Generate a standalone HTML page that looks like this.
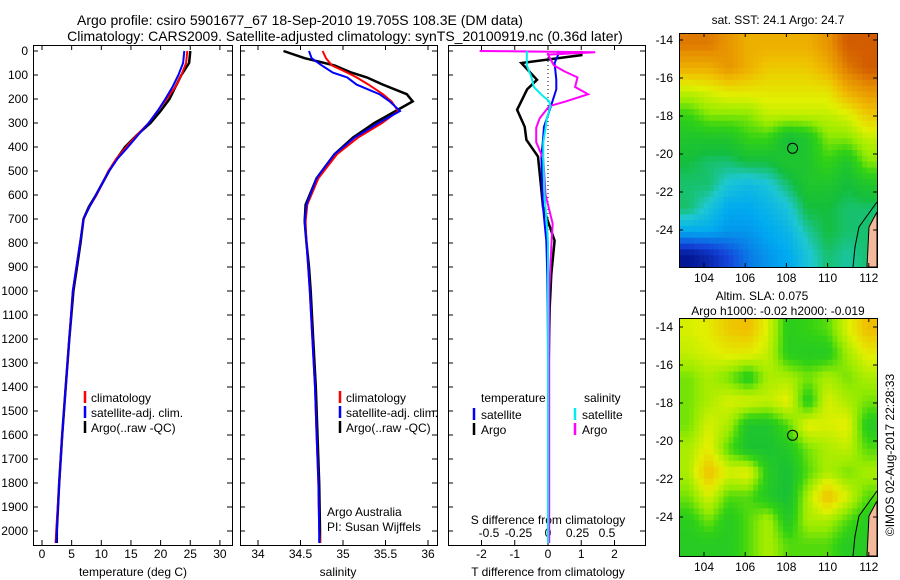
<!DOCTYPE html>
<html><head><meta charset="utf-8"><style>
body{margin:0;background:#fff;}
svg{display:block;font-family:"Liberation Sans",sans-serif;}
</style></head><body>
<svg id="c" width="900" height="580" viewBox="0 0 900 580"></svg>
<script>
// ---- data ----
const depths = [0,50,100,150,200,250,300,350,400,450,500,550,600,650,700,800,900,1000,1200,1400,1600,1800,2000,2050];
const climT = [24.5,24.3,23.5,22.5,21,19.5,18,16,14.2,12.5,11.2,10.2,9.2,8,7.0,6.4,5.8,5.2,4.6,4.0,3.4,2.9,2.4,2.3];
const satT  = [24.0,23.8,23.0,22.0,20.8,19.5,18,16.2,14.5,12.7,11.3,10.2,9.1,8,7.0,6.4,5.8,5.2,4.6,4.0,3.4,2.9,2.5,2.4];
const argoT = [25.0,24.8,23.5,22.5,21.5,20,18.3,16,14,12.6,11.3,10.2,9.1,7.9,7.0,6.5,5.9,5.3,4.6,4.0,3.4,2.9,2.5,2.5];
const sDepths = [0,30,60,90,110,140,180,210,250,300,360,430,530,640,710,800,900,1000,1200,1400,1600,1800,2000,2050];
const climS = [34.76,34.8,34.87,35.05,35.16,35.3,35.47,35.57,35.65,35.46,35.18,34.93,34.71,34.58,34.56,34.57,34.59,34.61,34.64,34.67,34.69,34.71,34.72,34.73];
const satS  = [34.6,34.63,34.75,34.88,35.05,35.16,35.43,35.55,35.67,35.42,35.14,34.9,34.69,34.57,34.55,34.57,34.59,34.61,34.64,34.67,34.69,34.71,34.72,34.72];
const argoS = [34.3,34.55,34.9,35.1,35.28,35.47,35.75,35.82,35.62,35.37,35.12,34.9,34.69,34.56,34.55,34.57,34.6,34.62,34.65,34.68,34.7,34.72,34.73,34.73];
const dTdep = [0,17,50,120,160,245,316,370,440,580,650,790,930,1070,1300,1600,2050];
const dTargo = [1.0,1.0,-0.8,-0.33,-0.63,-0.93,-0.7,-0.65,-0.3,-0.2,-0.15,0.2,0.1,0.05,0.02,0.01,0.01];
const dTsat  = [0.33,0.3,0.2,0.25,0.25,0.05,-0.12,-0.15,-0.2,-0.17,-0.15,-0.05,-0.02,-0.01,0,0,0];
const dSdep = [0,5,15,60,85,110,150,180,210,230,280,320,380,450,600,720,800,1000,2050];
const dSargo = [-0.58,0.4,0,0.05,0.14,0.25,0.23,0.34,0.15,0.01,-0.07,-0.1,-0.1,-0.04,-0.02,0.04,0.03,0.01,0.01];
const dSsat  = [-0.18,-0.18,-0.18,-0.18,-0.16,-0.14,-0.12,-0.06,0.01,0.02,-0.01,-0.02,-0.04,-0.04,-0.03,-0.01,0,0,0];
const depthTicks = [0,100,200,300,400,500,600,700,800,900,1000,1100,1200,1300,1400,1500,1600,1700,1800,1900,2000];
const tTicks = [0,5,10,15,20,25,30];
const sTicks = [34,34.5,35,35.5,36];
const sTickLabels = ["34","34.5","35","35.5","36"];
const dTTicks = [-2,-1,0,1,2];
const dSTicks = [-0.5,-0.25,0,0.25,0.5];
const dSTickLabels = ["-0.5","-0.25","0","0.25","0.5"];
const latTicks = [-14,-16,-18,-20,-22,-24];
const lonTicks = [104,106,108,110,112];
const sstGrid = [
[0.85,0.85,0.8,0.75,0.75,0.75,0.75,0.8,0.9,0.9],
[0.75,0.75,0.8,0.75,0.7,0.7,0.7,0.75,0.85,0.9],
[0.6,0.62,0.65,0.65,0.65,0.65,0.65,0.65,0.75,0.8],
[0.5,0.55,0.55,0.55,0.6,0.6,0.6,0.6,0.62,0.7],
[0.45,0.45,0.45,0.5,0.5,0.42,0.45,0.55,0.55,0.6],
[0.42,0.4,0.4,0.42,0.42,0.45,0.45,0.5,0.45,0.55],
[0.4,0.4,0.35,0.33,0.35,0.4,0.45,0.45,0.42,0.45],
[0.4,0.35,0.3,0.3,0.32,0.35,0.42,0.42,0.4,0.4],
[0.3,0.3,0.28,0.28,0.3,0.32,0.38,0.42,0.4,0.4],
[0.12,0.15,0.2,0.25,0.28,0.3,0.35,0.4,0.38,0.4]];
const slaGrid = [
[0.62,0.64,0.7,0.72,0.62,0.48,0.5,0.52,0.62,0.72],
[0.6,0.62,0.64,0.64,0.6,0.48,0.47,0.47,0.57,0.64],
[0.54,0.58,0.54,0.47,0.58,0.58,0.54,0.58,0.54,0.58],
[0.54,0.58,0.62,0.62,0.6,0.64,0.47,0.62,0.58,0.54],
[0.54,0.62,0.58,0.45,0.45,0.52,0.64,0.62,0.64,0.47],
[0.58,0.64,0.52,0.44,0.44,0.46,0.54,0.58,0.6,0.52],
[0.58,0.72,0.62,0.64,0.47,0.43,0.52,0.58,0.54,0.58],
[0.54,0.62,0.52,0.52,0.46,0.43,0.58,0.72,0.62,0.52],
[0.48,0.54,0.47,0.52,0.58,0.46,0.58,0.58,0.52,0.47],
[0.47,0.47,0.47,0.52,0.58,0.52,0.52,0.52,0.47,0.47]];
const argoLon = 108.3, argoLat = -19.7;

// ---- helpers ----
const NS="http://www.w3.org/2000/svg";
const svg=document.getElementById('c');
function mk(tag,attrs,parent){const e=document.createElementNS(NS,tag);for(const k in attrs)e.setAttribute(k,attrs[k]);(parent||svg).appendChild(e);return e;}
function txt(x,y,s,anchor,size,parent){const t=mk('text',{x:x,y:y,'font-size':size||12,'text-anchor':anchor||'start',fill:'#000'},parent);t.textContent=s;return t;}
const Y0=45,Y1=545;
const yD=d=>51+0.24*d;
const xT=v=>42+v*5.93;
const xS=v=>258+(v-34)*85;
const xDT=v=>548+v*33.25;
const xDS=v=>548+v*118;

function line(xs,ds,fx,color,w,name){
  const p=xs.map((v,i)=>fx(v).toFixed(1)+','+Math.max(Y0+1,yD(ds[i])).toFixed(1)).join(' ');
  const e=mk('polyline',{points:p,fill:'none',stroke:color,'stroke-width':w});
  
  
}
function panel(x0,x1,name){
  const r=mk('rect',{x:x0+0.5,y:Y0+0.5,width:x1-x0,height:Y1-Y0,fill:'none',stroke:'#000'});
  
  
  depthTicks.forEach(d=>{mk('line',{x1:x0,x2:x0+5,y1:yD(d),y2:yD(d),stroke:'#000'});mk('line',{x1:x1-5,x2:x1,y1:yD(d),y2:yD(d),stroke:'#000'});});
}
function xticks(vals,labels,fx,y){
  vals.forEach((v,i)=>{const x=fx(v);mk('line',{x1:x,x2:x,y1:Y0,y2:Y0+5,stroke:'#000'});mk('line',{x1:x,x2:x,y1:Y1-5,y2:Y1,stroke:'#000'});
    const t=txt(x,y,labels[i],'middle',12);
    
    });
}

// ---- titles ----
let t=txt(300,25,'Argo profile: csiro 5901677_67 18-Sep-2010 19.705S 108.3E (DM data)','middle',14);


t=txt(345,41,'Climatology: CARS2009. Satellite-adjusted climatology: synTS_20100919.nc (0.36d later)','middle',14);



// ---- panel 1 temperature ----
panel(33,232,'temperature-panel');
depthTicks.forEach(d=>{const e=txt(28,yD(d)+4,String(d),'end',12);
  
  });
xticks(tTicks,tTicks.map(String),xT,558);
t=txt(133,576,'temperature (deg C)','middle',12);


line(argoT,depths,xT,'#000',2.5,'argo-temperature-line');
line(climT,depths,xT,'#f00',2,'climatology-temperature-line');
line(satT,depths,xT,'#00f',2,'satellite-temperature-line');

function legend(x,y,name){
  const g=mk('g',{});
  
  
  [['#f00','climatology'],['#00f','satellite-adj. clim.'],['#000','Argo(..raw -QC)']].forEach((e,i)=>{
    mk('line',{x1:x,x2:x,y1:y-9+i*15,y2:y+3+i*15,stroke:e[0],'stroke-width':2.5},g);
    txt(x+6,y+2+i*15,e[1],'start',12,g);});
}
legend(85,400,'temperature-legend');

// ---- panel 2 salinity ----
panel(240,437,'salinity-panel');
xticks(sTicks,sTickLabels,xS,558);
t=txt(338,576,'salinity','middle',12);


line(argoS,sDepths,xS,'#000',2.5,'argo-salinity-line');
line(climS,sDepths,xS,'#f00',2,'climatology-salinity-line');
line(satS,sDepths,xS,'#00f',2,'satellite-salinity-line');
legend(340,400,'salinity-legend');
t=txt(327,516,'Argo Australia','start',12);


t=txt(327,531,'PI: Susan Wijffels','start',12);



// ---- panel 3 differences ----
panel(448,645,'difference-panel');
xticks(dTTicks,dTTicks.map(String),xDT,558);
dSTicks.forEach((v,i)=>{const e=txt(xDS(v),537,dSTickLabels[i],'middle',12);
  
  });
t=txt(548,524,'S difference from climatology','middle',12);


t=txt(548,576,'T difference from climatology','middle',12);


mk('line',{x1:xDT(0),x2:xDT(0),y1:Y0,y2:Y1,stroke:'#000','stroke-dasharray':'1,3'});
line(dTargo,dTdep,xDT,'#000',2.5,'argo-t-diff-line');
line(dTsat,dTdep,xDT,'#00f',2,'satellite-t-diff-line');
line(dSargo,dSdep,xDS,'#f0f',2,'argo-s-diff-line');
line(dSsat,dSdep,xDS,'#0ee',2,'satellite-s-diff-line');
const lg=mk('g',{});


txt(481,402,'temperature','start',12,lg);txt(584,402,'salinity','start',12,lg);
[['#00f','satellite',474],['#000','Argo',474],['#0ee','satellite',575],['#f0f','Argo',575]].forEach((e,i)=>{
  const yy=417+(i%2)*15;mk('line',{x1:e[2],x2:e[2],y1:yy-9,y2:yy+3,stroke:e[0],'stroke-width':2.5},lg);txt(e[2]+7,yy+2,e[1],'start',12,lg);});

// ---- maps ----
const stops=[[0.1,[0,10,130]],[0.2,[20,70,220]],[0.3,[0,170,240]],[0.36,[30,200,210]],[0.42,[20,190,60]],[0.5,[50,210,20]],[0.56,[150,235,0]],[0.63,[225,240,0]],[0.72,[240,190,0]],[0.82,[230,140,0]],[0.92,[205,80,0]]];
function cmap(v){if(v<=stops[0][0])return 'rgb('+stops[0][1]+')';
  for(let i=1;i<stops.length;i++){if(v<=stops[i][0]){const a=stops[i-1],b=stops[i],f=(v-a[0])/(b[0]-a[0]);
    return 'rgb('+a[1].map((c,k)=>Math.round(c+(b[1][k]-c)*f)).join(',')+')';}}
  return 'rgb('+stops[stops.length-1][1]+')';}
function sample(grid,fy,fx){
  const rows=grid.length,cols=grid[0].length;
  const y=Math.min(Math.max(fy-0.5,0),rows-1),x=Math.min(Math.max(fx-0.5,0),cols-1);
  const y0=Math.floor(y),x0=Math.floor(x),y1=Math.min(y0+1,rows-1),x1=Math.min(x0+1,cols-1),a=y-y0,b=x-x0;
  return grid[y0][x0]*(1-a)*(1-b)+grid[y0][x1]*(1-a)*b+grid[y1][x0]*a*(1-b)+grid[y1][x1]*a*b;
}
function map(grid,top,bot,name,lat14y){
  const L=679,R=877,SUB=4;
  const g=mk('g',{});
  
  
  const rows=grid.length*SUB,cols=grid[0].length*SUB,cw=(R-L)/cols,ch=(bot-top)/rows;
  for(let r=0;r<rows;r++)for(let c=0;c<cols;c++){
    const v=sample(grid,(r+0.5)/SUB,(c+0.5)/SUB);
    const cell=mk('rect',{x:(L+c*cw).toFixed(2),y:(top+r*ch).toFixed(2),width:(cw+0.6).toFixed(2),height:(ch+0.6).toFixed(2),fill:cmap(v)},g);
    
    }
  const lx=lon=>704+(lon-104)*20.6, ly=lat=>lat14y+(-14-lat)*19;
  mk('polygon',{points:`${R},${bot-55} ${R-8},${bot-40} ${R-10},${bot} ${R},${bot}`,fill:'#f4b89a',stroke:'#000'},g);
  mk('polyline',{points:`${R},${bot-65} ${R-18},${bot-40} ${R-22},${bot-20} ${R-24},${bot}`,fill:'none',stroke:'#000'},g);
  mk('rect',{x:L+0.5,y:top+0.5,width:R-L,height:bot-top,fill:'none',stroke:'#000'},g);
  latTicks.forEach(la=>{const y=ly(la);mk('line',{x1:L,x2:L+4,y1:y,y2:y,stroke:'#000'},g);mk('line',{x1:R-4,x2:R,y1:y,y2:y,stroke:'#000'},g);txt(673,y+4,String(la),'end',12,g);});
  lonTicks.forEach(lo=>{const x=lx(lo);mk('line',{x1:x,x2:x,y1:top,y2:top+4,stroke:'#000'},g);mk('line',{x1:x,x2:x,y1:bot-4,y2:bot,stroke:'#000'},g);txt(x,bot+15,String(lo),'middle',12,g);});
  const dot=mk('circle',{cx:lx(argoLon),cy:ly(argoLat),r:5,fill:'none',stroke:'#000'},g);
  
  
}
map(sstGrid,33,267,'sst-map',40);
map(slaGrid,318,556,'sla-map',327);
t=txt(778,24,'sat. SST: 24.1  Argo: 24.7','middle',12);


t=txt(762,300,'Altim. SLA: 0.075','middle',12);


t=txt(778,315,'Argo h1000: -0.02 h2000: -0.019','middle',12);


t=mk('text',{x:0,y:0,'font-size':12,'text-anchor':'middle',transform:'translate(894,455) rotate(-90)'});
t.textContent='©IMOS 02-Aug-2017 22:28:33';


</script>
</body></html>
